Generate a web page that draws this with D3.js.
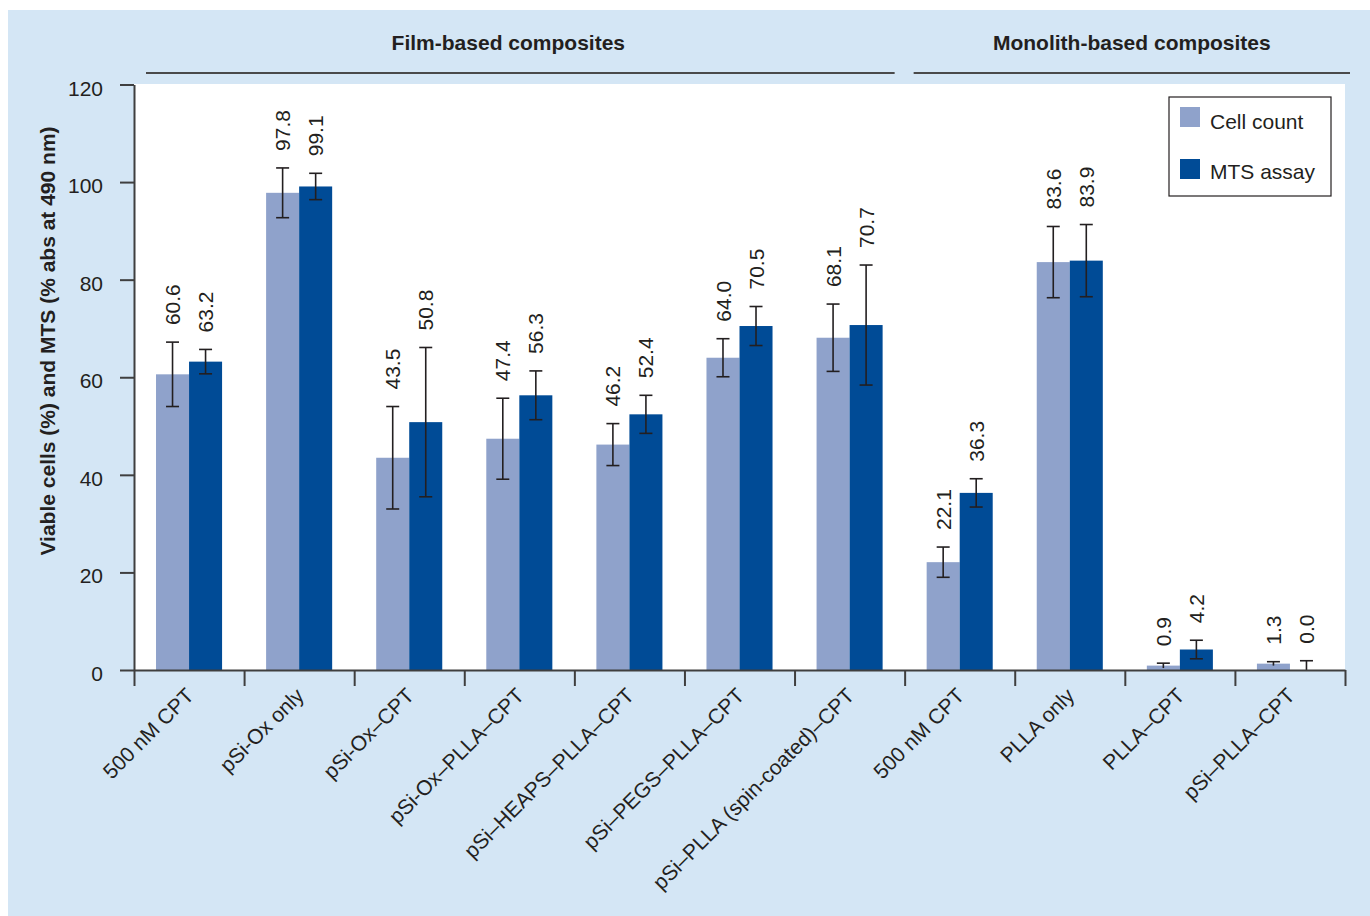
<!DOCTYPE html>
<html>
<head>
<meta charset="utf-8">
<script src="https://cdn.jsdelivr.net/npm/d3@7"></script>
<style>
  body { margin: 0; background: #ffffff; }
  svg { display: block; }
  text { font-family: "Liberation Sans", Arial, Helvetica, sans-serif; fill: #231f20; }
</style>
</head>
<body>
<svg id="chart" width="1370" height="916"></svg>
<script>
// Treatment groups along the x axis
const categories = [
  "500 nM CPT", "pSi-Ox only", "pSi-Ox\u2013CPT", "pSi-Ox\u2013PLLA\u2013CPT",
  "pSi\u2013HEAPS\u2013PLLA\u2013CPT", "pSi\u2013PEGS\u2013PLLA\u2013CPT",
  "pSi\u2013PLLA (spin-coated)\u2013CPT", "500 nM CPT", "PLLA only",
  "PLLA\u2013CPT", "pSi\u2013PLLA\u2013CPT"
];
const seriesNames = ["Cell count", "MTS assay"];
const cellCount = [60.6, 97.8, 43.5, 47.4, 46.2, 64.0, 68.1, 22.1, 83.6, 0.9, 1.3];
const cellCountSD = [6.6, 5.1, 10.5, 8.3, 4.3, 3.9, 6.9, 3.1, 7.3, 0.5, 0.4];
const mtsAssay = [63.2, 99.1, 50.8, 56.3, 52.4, 70.5, 70.7, 36.3, 83.9, 4.2, 0.0];
const mtsAssaySD = [2.5, 2.7, 15.3, 5.0, 3.9, 4.0, 12.3, 2.9, 7.4, 1.9, 1.9];
const yTicks = [0, 20, 40, 60, 80, 100, 120];
const groupNames = ["Film-based composites", "Monolith-based composites"];
const groupStart = [0, 7];
const groupEnd = [7, 11];
const yTitle = "Viable cells (%) and MTS (% abs at 490 nm)";

const colors = ["#8fa2cb", "#004b96"];
const ink = "#231f20";
const axisColor = "#3f3f3f";

const svg = d3.select("#chart");
const W = 1370, H = 916;
const plot = { left: 134, right: 1345, top: 84.5, bottom: 670 };

// Light blue panel and white plotting area
svg.append("rect").attr("x", 8).attr("y", 10).attr("width", W - 8).attr("height", H - 10)
  .attr("fill", "#d4e6f5");
svg.append("rect").attr("x", plot.left).attr("y", plot.top - 0.5)
  .attr("width", plot.right - plot.left).attr("height", plot.bottom - plot.top + 0.5)
  .attr("fill", "#ffffff");

// Scales
const idx = d3.range(categories.length);
const x0 = d3.scaleBand().domain(idx).range([plot.left, plot.right])
  .paddingInner(0.4).paddingOuter(0.2);
const x1 = d3.scaleBand().domain([0, 1]).range([0, x0.bandwidth()]);
const xb = d3.scaleLinear().domain([0, categories.length]).range([plot.left, plot.right]);
const y = d3.scaleLinear().domain([0, 120]).range([plot.bottom, plot.top]);

const rows = idx.map(i => ({
  i,
  vals: [
    { s: 0, v: cellCount[i], sd: cellCountSD[i] },
    { s: 1, v: mtsAssay[i], sd: mtsAssaySD[i] }
  ]
}));

// Bars
const g = svg.append("g");
const grp = g.selectAll("g.cat").data(rows).join("g").attr("class", "cat")
  .attr("transform", d => `translate(${x0(d.i)},0)`);
grp.selectAll("rect").data(d => d.vals).join("rect")
  .attr("x", d => x1(d.s))
  .attr("width", x1.bandwidth())
  .attr("y", d => y(d.v))
  .attr("height", d => y(0) - y(d.v))
  .attr("fill", d => colors[d.s]);

// Error bars (lower whisker clipped at zero)
const cap = 6.5;
const mid = d => x1(d.s) + x1.bandwidth() / 2;
const eb = grp.selectAll("g.err").data(d => d.vals).join("g").attr("class", "err")
  .attr("stroke", ink).attr("stroke-width", 1.6);
eb.append("line")
  .attr("x1", mid).attr("x2", mid)
  .attr("y1", d => y(d.v + d.sd)).attr("y2", d => y(Math.max(0, d.v - d.sd)));
eb.append("line")
  .attr("x1", d => mid(d) - cap).attr("x2", d => mid(d) + cap)
  .attr("y1", d => y(d.v + d.sd)).attr("y2", d => y(d.v + d.sd));
eb.filter(d => d.v - d.sd > 1).append("line")
  .attr("x1", d => mid(d) - cap).attr("x2", d => mid(d) + cap)
  .attr("y1", d => y(d.v - d.sd)).attr("y2", d => y(d.v - d.sd));

// Value labels, vertical, above each error bar
grp.selectAll("text.val").data(d => d.vals).join("text").attr("class", "val")
  .attr("transform", d => `translate(${mid(d)},${y(d.v + d.sd) - 17}) rotate(-90)`)
  .attr("text-anchor", "start")
  .attr("dy", "0.36em")
  .attr("font-size", 21)
  .text(d => d.v.toFixed(1));

// Y axis
const yAxis = svg.append("g").attr("transform", `translate(${plot.left},0)`)
  .call(d3.axisLeft(y).tickValues(yTicks).tickSize(14).tickSizeOuter(0).tickPadding(17));
yAxis.select(".domain").attr("stroke", axisColor).attr("stroke-width", 2);
yAxis.selectAll(".tick line").attr("stroke", axisColor).attr("stroke-width", 2);
yAxis.selectAll(".tick text").attr("font-size", 21).attr("fill", ink).attr("dy", "0.5em")
  .attr("font-family", "\"Liberation Sans\", Arial, sans-serif");

// X axis with ticks at category boundaries
const xAxis = svg.append("g").attr("transform", `translate(0,${plot.bottom})`)
  .call(d3.axisBottom(xb).tickValues(d3.range(categories.length + 1)).tickSize(16)
    .tickSizeOuter(0).tickFormat(""));
xAxis.select(".domain").attr("stroke", axisColor).attr("stroke-width", 2);
xAxis.selectAll(".tick line").attr("stroke", axisColor).attr("stroke-width", 2);

// Category labels, slanted
svg.append("g").selectAll("text").data(idx).join("text")
  .attr("transform", i => `translate(${x0(i) + x0.bandwidth() / 2 + 6},${plot.bottom + 27}) rotate(-45)`)
  .attr("text-anchor", "end")
  .attr("font-size", 21)
  .text(i => categories[i]);

// Y axis title
svg.append("text")
  .attr("transform", `translate(55,341) rotate(-90)`)
  .attr("text-anchor", "middle")
  .attr("font-size", 21).attr("font-weight", "bold")
  .text(yTitle);

// Group headers with rules
const lineInset = [[12, -10], [9, 5]];
const headDx = [-12, 0];
groupNames.forEach((name, k) => {
  const a = xb(groupStart[k]) + lineInset[k][0];
  const b = xb(groupEnd[k]) + lineInset[k][1];
  svg.append("line").attr("x1", a).attr("x2", b).attr("y1", 73).attr("y2", 73)
    .attr("stroke", "#4a4a4a").attr("stroke-width", 2);
  svg.append("text").attr("x", (a + b) / 2 + headDx[k]).attr("y", 50)
    .attr("text-anchor", "middle").attr("font-size", 21).attr("font-weight", "bold")
    .text(name);
});

// Legend
const lg = svg.append("g").attr("transform", "translate(1169,97)");
lg.append("rect").attr("width", 162).attr("height", 99)
  .attr("fill", "#ffffff").attr("stroke", ink).attr("stroke-width", 1.2);
seriesNames.forEach((name, k) => {
  lg.append("rect").attr("x", 11).attr("y", 10 + k * 52).attr("width", 20).attr("height", 20)
    .attr("fill", colors[k]);
  lg.append("text").attr("x", 41).attr("y", 32 + k * 50).attr("font-size", 21).text(name);
});
</script>
</body>
</html>
